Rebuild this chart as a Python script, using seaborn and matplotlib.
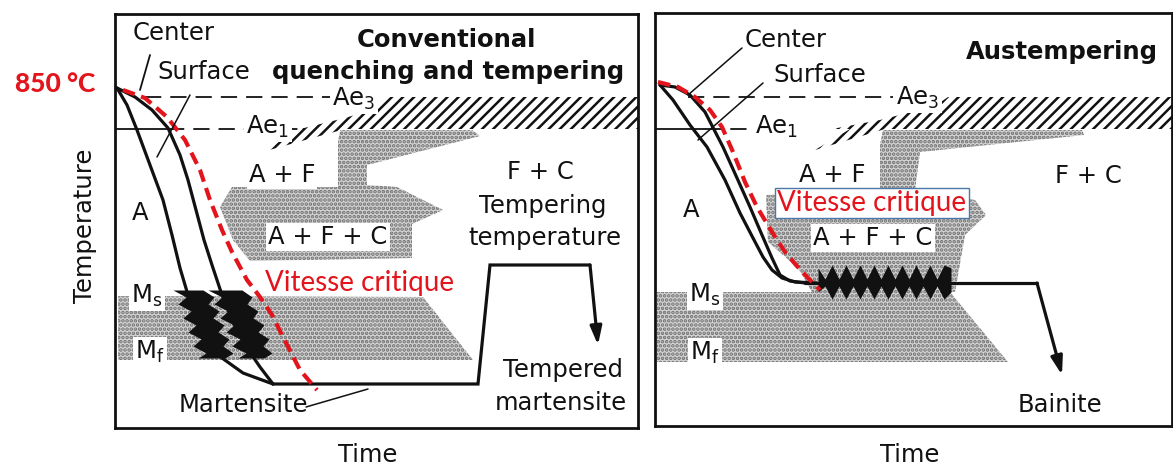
import matplotlib
matplotlib.use("Agg")
import matplotlib.pyplot as plt
import seaborn as sns

# ---- schematic data, in picture units (x = time, y = temperature, downwards) ----
# conventional quenching and tempering (left panel)
surf_L_x = [117, 127, 137, 150, 163, 172, 180, 188, 197, 208, 222, 243, 273]
surf_L_y = [88, 105, 130, 165, 200, 235, 268, 295, 320, 340, 358, 373, 384]
cent_L_x = [117, 135, 152, 168, 180, 188, 196, 204, 212, 222, 233, 247, 260, 273]
cent_L_y = [88, 97, 110, 128, 155, 180, 210, 240, 265, 295, 322, 348, 367, 384]
crit_L_x = [123, 145, 167, 185, 200, 210, 222, 232, 247, 260, 272, 283, 300, 317]
crit_L_y = [90, 98, 117, 140, 170, 200, 230, 252, 280, 297, 315, 337, 370, 390]
path_L_x = [273, 478, 490, 590]
path_L_y = [384, 384, 265, 265]
arrow_L = [(590, 265), (598, 345)]

# austempering (right panel)
surf_R_x = [660, 673, 690, 707, 725, 740, 753, 763, 772, 782, 795, 817]
surf_R_y = [85, 100, 125, 147, 180, 213, 238, 257, 270, 278, 282, 283]
cent_R_x = [660, 675, 690, 705, 723, 737, 750, 762, 772, 780, 790, 805]
cent_R_y = [85, 87, 95, 112, 147, 178, 207, 235, 258, 275, 281, 283]
crit_R_x = [658, 678, 695, 710, 722, 733, 745, 757, 772, 785, 796, 808, 820]
crit_R_y = [82, 87, 97, 110, 127, 152, 182, 207, 232, 252, 265, 278, 290]
path_R_x = [805, 1037]
path_R_y = [283, 283]
arrow_R = [(1037, 283), (1062, 375)]

# transformation bands (zig-zag edges)
mart_y = [290, 297, 304, 311, 318, 325, 332, 339, 346, 353, 358]
mart1_lo = [173, 186, 178, 191, 183, 196, 188, 201, 193, 206, 198]
mart1_hi = [203, 214, 208, 219, 213, 224, 218, 229, 223, 233, 225]
mart2_lo = [208, 222, 214, 228, 220, 234, 226, 240, 232, 246, 238]
mart2_hi = [242, 252, 247, 258, 253, 264, 258, 269, 263, 272, 264]
bain_x = [818, 825, 832, 839, 846, 853, 860, 867, 874, 881, 888, 895, 902,
          909, 916, 923, 930, 937, 944, 951]
bain_top = [268, 279, 265, 279, 265, 279, 265, 279, 265, 279, 265, 279, 265,
            279, 265, 279, 265, 279, 265, 268]
bain_bot = [292, 286, 299, 286, 299, 286, 299, 286, 299, 286, 299, 286, 299,
            286, 299, 286, 299, 286, 299, 292]

# phase regions (polygons)
stip_L_up = [(340, 130), (472, 130), (480, 136), (367, 165), (367, 185), (397, 187),
             (443, 210), (412, 224), (412, 258), (250, 261), (233, 240), (220, 207),
             (232, 187), (338, 187), (338, 143)]
stip_L_lo = [(118, 296), (423, 297), (473, 360), (118, 360)]
stip_R_up = [(883, 130), (1082, 130), (1084, 135), (920, 152), (915, 190), (975, 200),
             (986, 215), (965, 235), (955, 292), (812, 292), (798, 268), (768, 242),
             (766, 195), (880, 192), (880, 145)]
stip_R_lo = [(657, 292), (950, 292), (1008, 362), (657, 362)]
hatch_L = [[(300, 129), (345, 118), (378, 108), (390, 97), (638, 97), (638, 129)],
           [(262, 152), (300, 129), (345, 129)]]
hatch_R = [[(832, 129), (880, 120), (935, 106), (948, 97), (1173, 97), (1173, 129)],
           [(815, 150), (850, 129), (885, 129)]]

RED = "#e3141c"
BLACK = "#111111"
CALIBRI = ["Lato", "DejaVu Sans"]

sns.set_style("white")
plt.rcParams["font.family"] = ["DejaVu Sans"]
plt.rcParams["hatch.linewidth"] = 1.8

fig = plt.figure(figsize=(11.73, 4.66), dpi=100)
W, H = 1173, 466
axL = fig.add_axes([115 / W, (H - 428) / H, 523 / W, 414 / H])
axR = fig.add_axes([655 / W, (H - 426) / H, 517 / W, 413 / H])
axL.set_xlim(115, 638)
axL.set_ylim(428, 14)
axR.set_xlim(655, 1172)
axR.set_ylim(426, 13)


def poly(ax, pts, **kw):
    xs = [p[0] for p in pts]
    ys = [p[1] for p in pts]
    ax.fill(xs, ys, **kw)


def txt(ax, x, y, s, size=17.5, white=False, **kw):
    kw.setdefault("ha", "center")
    kw.setdefault("va", "center")
    kw.setdefault("color", BLACK)
    if white:
        kw["bbox"] = dict(facecolor="white", edgecolor="none", pad=1.5)
    ax.text(x, y, s, fontsize=size, **kw)


for ax in (axL, axR):
    ax.set_xticks([])
    ax.set_yticks([])
    for sp in ax.spines.values():
        sp.set_visible(True)
        sp.set_color(BLACK)
        sp.set_linewidth(2)

# stippled and hatched regions
for ax, pts in ((axL, stip_L_up), (axL, stip_L_lo), (axR, stip_R_up), (axR, stip_R_lo)):
    poly(ax, pts, facecolor="#d4d4d4", edgecolor="#6f6f6f", hatch="....", linewidth=0)
for pts in hatch_L:
    poly(axL, pts, facecolor="white", edgecolor=BLACK, hatch="///", linewidth=0)
for pts in hatch_R:
    poly(axR, pts, facecolor="white", edgecolor=BLACK, hatch="///", linewidth=0)

# Ae lines
axL.plot([145, 330], [97, 97], color=BLACK, lw=1.3, dashes=(9, 5))
axL.plot([115, 168], [129, 129], color=BLACK, lw=1.3)
axL.plot([168, 245], [129, 129], color=BLACK, lw=1.3, dashes=(9, 5))
axL.plot([292, 305], [129, 129], color=BLACK, lw=1.3, dashes=(3, 3))
axR.plot([688, 893], [97, 97], color=BLACK, lw=1.3, dashes=(9, 5))
axR.plot([655, 705], [129, 129], color=BLACK, lw=1.3)
axR.plot([705, 752], [129, 129], color=BLACK, lw=1.3, dashes=(9, 5))

# transformation products
axL.fill_betweenx(mart_y, mart1_lo, mart1_hi, color=BLACK, lw=0)
axL.fill_betweenx(mart_y, mart2_lo, mart2_hi, color=BLACK, lw=0)
axR.fill_between(bain_x, bain_top, bain_bot, color=BLACK, lw=0)

# cooling curves
for ax, xs, ys in ((axL, surf_L_x, surf_L_y), (axL, cent_L_x, cent_L_y),
                   (axR, surf_R_x, surf_R_y), (axR, cent_R_x, cent_R_y)):
    sns.lineplot(x=xs, y=ys, sort=False, estimator=None, color=BLACK, lw=2.3, ax=ax)
axL.plot(path_L_x, path_L_y, color=BLACK, lw=2.3, solid_joinstyle="miter")
axR.plot(path_R_x, path_R_y, color=BLACK, lw=2.3)
for ax, (p0, p1) in ((axL, arrow_L), (axR, arrow_R)):
    ax.annotate("", xy=p1, xytext=p0,
                arrowprops=dict(arrowstyle="-|>,head_length=1.1,head_width=0.35",
                                color=BLACK, lw=2.3, shrinkA=0, shrinkB=0))

# critical cooling rate (red dashed)
for ax, xs, ys in ((axL, crit_L_x, crit_L_y), (axR, crit_R_x, crit_R_y)):
    sns.lineplot(x=xs, y=ys, sort=False, estimator=None, color=RED, lw=3, ax=ax)
    ax.lines[-1].set_dashes((3, 1.6))

# leader lines
axL.plot([150, 140], [55, 90], color=BLACK, lw=1.3)
axL.plot([190, 157], [95, 157], color=BLACK, lw=1.1)
axL.plot([306, 368], [407, 389], color=BLACK, lw=1.1)
axR.plot([742, 688], [48, 95], color=BLACK, lw=1.1)
axR.plot([763, 698], [83, 140], color=BLACK, lw=1.1)

# left panel text
txt(axL, 133, 33, "Center", ha="left")
txt(axL, 157, 72, "Surface", ha="left")
txt(axL, 446, 40, "Conventional", fontweight="bold")
txt(axL, 448, 72, "quenching and tempering", fontweight="bold")
txt(axL, 354, 99, r"Ae$_3$", white=True)
txt(axL, 268, 127, r"Ae$_1$", white=True)
txt(axL, 282, 175, "A + F", white=True)
txt(axL, 140, 213, "A")
txt(axL, 328, 237, "A + F + C", white=True)
txt(axL, 540, 172, "F + C")
txt(axL, 543, 206, "Tempering")
txt(axL, 545, 238, "temperature")
txt(axL, 147, 296, r"M$_\mathregular{s}$", white=True)
txt(axL, 150, 352, r"M$_\mathregular{f}$", white=True)
txt(axL, 243, 405, "Martensite")
txt(axL, 563, 370, "Tempered")
txt(axL, 561, 403, "martensite")
txt(axL, 360, 283, "Vitesse critique", size=20, color=RED, family=CALIBRI)
txt(axL, 55, 84, "850 °C", size=19, color=RED, fontweight="black",
    family=CALIBRI, clip_on=False)

# right panel text
txt(axR, 745, 40, "Center", ha="left")
txt(axR, 773, 75, "Surface", ha="left")
txt(axR, 1062, 52, "Austempering", fontweight="bold")
txt(axR, 918, 98, r"Ae$_3$", white=True)
txt(axR, 777, 127, r"Ae$_1$", white=True)
txt(axR, 832, 175, "A + F", white=True)
txt(axR, 1088, 176, "F + C")
txt(axR, 691, 210, "A")
txt(axR, 873, 238, "A + F + C", white=True)
axR.text(872, 203, "Vitesse critique", fontsize=20, color=RED, ha="center", va="center",
         family=CALIBRI,
         bbox=dict(facecolor="white", edgecolor="#4a78a8", linewidth=1, pad=1.5))
txt(axR, 705, 295, r"M$_\mathregular{s}$", white=True)
txt(axR, 705, 353, r"M$_\mathregular{f}$", white=True)
txt(axR, 1060, 405, "Bainite")

# axis titles (placed in figure units)
fig.text(85 / W, 1 - 226 / H, "Temperature", fontsize=17.5, color=BLACK,
         rotation=90, ha="center", va="center")
fig.text(368 / W, 1 - 455 / H, "Time", fontsize=17.5, color=BLACK, ha="center", va="center")
fig.text(910 / W, 1 - 455 / H, "Time", fontsize=17.5, color=BLACK, ha="center", va="center")

fig.savefig("out.png", dpi=100)
